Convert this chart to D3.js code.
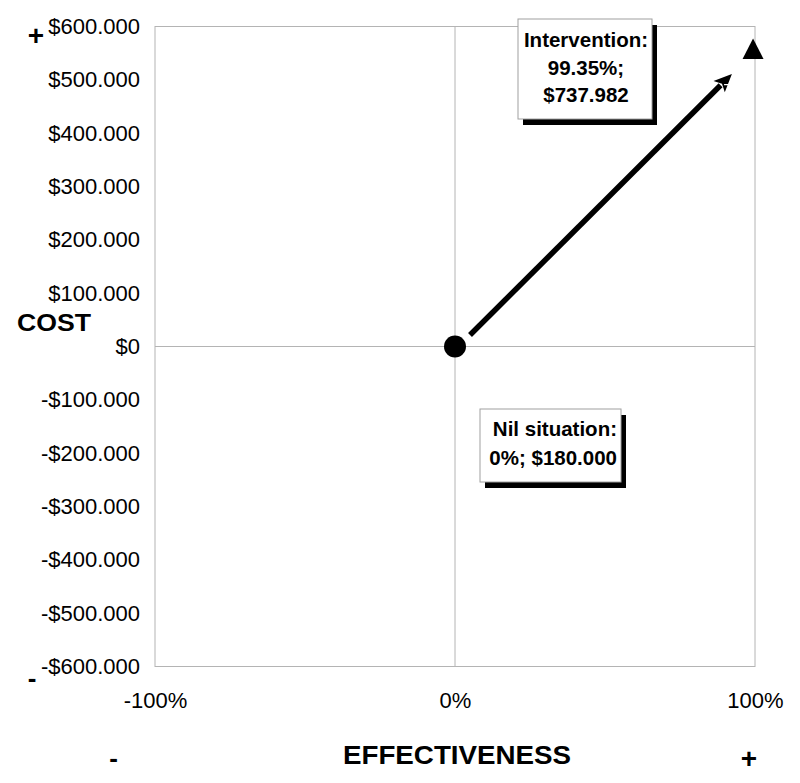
<!DOCTYPE html>
<html>
<head>
<meta charset="utf-8">
<script src="https://cdn.jsdelivr.net/npm/d3@7/dist/d3.min.js"></script>
<style>
  html, body { margin: 0; padding: 0; background: #fff; }
  svg { display: block; font-family: "Liberation Sans", Arial, Helvetica, sans-serif; }
</style>
</head>
<body>
<svg id="chart" width="800" height="783"></svg>
<script>
// ---- data ----
const xTicks = [-1, 0, 1];
const xTickLabels = ["-100%", "0%", "100%"];
const yTicks = [600000, 500000, 400000, 300000, 200000, 100000, 0, -100000, -200000, -300000, -400000, -500000, -600000];
const pointNames = ["Nil situation", "Intervention"];
const pointEff = [0, 0.9935];
const pointCost = [0, 557982];
const pointShapes = ["circle", "triangle"];
const annotationLines = [
  ["Nil situation:", "0%; $180.000"],
  ["Intervention:", "99.35%;", "$737.982"]
];
const arrowEff = [0.05, 0.923];
const arrowCost = [21500, 511000];

// ---- layout ----
const W = 800, H = 783;
const plot = { left: 155, right: 755, top: 26.5, bottom: 666.5 };
const svg = d3.select("#chart");

const x = d3.scaleLinear().domain([-1, 1]).range([plot.left, plot.right]);
const y = d3.scaleLinear().domain([-600000, 600000]).range([plot.bottom, plot.top]);

const locale = d3.formatLocale({ decimal: ",", thousands: ".", grouping: [3], currency: ["$", ""], minus: "-" });
const fmt = locale.format("$,");

const gridColor = "#b4b4b4";

// plot frame
svg.append("rect")
  .attr("x", plot.left).attr("y", plot.top)
  .attr("width", plot.right - plot.left).attr("height", plot.bottom - plot.top)
  .attr("fill", "none").attr("stroke", gridColor).attr("stroke-width", 1);

// zero lines
svg.append("line")
  .attr("x1", x(0)).attr("x2", x(0)).attr("y1", plot.top).attr("y2", plot.bottom)
  .attr("stroke", gridColor).attr("stroke-width", 1);
svg.append("line")
  .attr("x1", plot.left).attr("x2", plot.right).attr("y1", y(0)).attr("y2", y(0))
  .attr("stroke", gridColor).attr("stroke-width", 1);

// y axis
const yAxis = d3.axisLeft(y).tickValues(yTicks).tickFormat(fmt).tickSize(0).tickPadding(15);
const gy = svg.append("g").attr("transform", `translate(${plot.left},0)`).call(yAxis);
gy.select(".domain").remove();
gy.selectAll("text").attr("font-size", 22).attr("fill", "#000")
  .attr("font-family", "'Liberation Sans', Arial, sans-serif");

// x axis
const xAxis = d3.axisBottom(x).tickValues(xTicks).tickFormat((d, i) => xTickLabels[i]).tickSize(0).tickPadding(26);
const gx = svg.append("g").attr("transform", `translate(0,${plot.bottom})`).call(xAxis);
gx.select(".domain").remove();
gx.selectAll("text").attr("font-size", 22).attr("fill", "#000")
  .attr("font-family", "'Liberation Sans', Arial, sans-serif");

// axis titles
svg.append("text").attr("x", 17).attr("y", 331).attr("font-size", 23).attr("font-weight", "bold")
  .attr("textLength", 74).attr("lengthAdjust", "spacingAndGlyphs").text("COST");
svg.append("text").attr("x", 343).attr("y", 763.5).attr("font-size", 25).attr("font-weight", "bold")
  .attr("textLength", 228).attr("lengthAdjust", "spacingAndGlyphs").text("EFFECTIVENESS");

// plus / minus markers
svg.append("text").attr("x", 36).attr("y", 45).attr("text-anchor", "middle").attr("font-size", 28).attr("font-weight", "bold").text("+");
svg.append("text").attr("x", 32).attr("y", 687).attr("text-anchor", "middle").attr("font-size", 26).attr("font-weight", "bold").text("-");
svg.append("text").attr("x", 113.5).attr("y", 766.5).attr("text-anchor", "middle").attr("font-size", 26).attr("font-weight", "bold").text("-");
svg.append("text").attr("x", 749).attr("y", 768).attr("text-anchor", "middle").attr("font-size", 28).attr("font-weight", "bold").text("+");

// arrow
const ax0 = x(arrowEff[0]), ay0 = y(arrowCost[0]);
const ax1 = x(arrowEff[1]), ay1 = y(arrowCost[1]);
const dx = ax1 - ax0, dy = ay1 - ay0, len = Math.hypot(dx, dy);
const ux = dx / len, uy = dy / len, px = -uy, py = ux;
const headLen = 18, headHalf = 8;
const bx = ax1 - ux * headLen, by = ay1 - uy * headLen;
svg.append("line")
  .attr("x1", ax0).attr("y1", ay0).attr("x2", bx + ux * 2).attr("y2", by + uy * 2)
  .attr("stroke", "#000").attr("stroke-width", 5.5);
svg.append("path")
  .attr("d", `M${ax1},${ay1} L${bx + px * headHalf},${by + py * headHalf} L${bx + ux * 4},${by + uy * 4} L${bx - px * headHalf},${by - py * headHalf} Z`)
  .attr("fill", "#000");
svg.append("line")
  .attr("x1", bx + ux * 5 + px * 2).attr("y1", by + uy * 5 + py * 2)
  .attr("x2", bx + ux * 8 + px * 5).attr("y2", by + uy * 8 + py * 5)
  .attr("stroke", "#fff").attr("stroke-width", 1.2);

// points
pointNames.forEach((name, i) => {
  const cx = x(pointEff[i]), cy = y(pointCost[i]);
  if (pointShapes[i] === "circle") {
    svg.append("circle").attr("cx", cx).attr("cy", cy).attr("r", 11).attr("fill", "#000");
  } else {
    svg.append("path").attr("d", `M${cx},${cy - 10.5} L${cx + 10.5},${cy + 10} L${cx - 10.5},${cy + 10} Z`).attr("fill", "#000");
  }
});

// annotation boxes
const boxes = [
  { x: 480, y: 409, w: 141, h: 73, anchor: "end", tx: 617, baselines: [436, 464.5] },
  { x: 518, y: 19, w: 134, h: 100, anchor: "middle", tx: 586, baselines: [47, 75, 102] }
];
boxes.forEach((b, i) => {
  svg.append("rect").attr("x", b.x + 5).attr("y", b.y + 6).attr("width", b.w).attr("height", b.h).attr("fill", "#000");
  svg.append("rect").attr("x", b.x).attr("y", b.y).attr("width", b.w).attr("height", b.h)
    .attr("fill", "#fff").attr("stroke", "#a0a0a0").attr("stroke-width", 1);
  annotationLines[i].forEach((line, j) => {
    svg.append("text").attr("x", b.tx).attr("y", b.baselines[j])
      .attr("text-anchor", b.anchor).attr("font-size", 20.5).attr("font-weight", "bold").text(line);
  });
});
</script>
</body>
</html>
